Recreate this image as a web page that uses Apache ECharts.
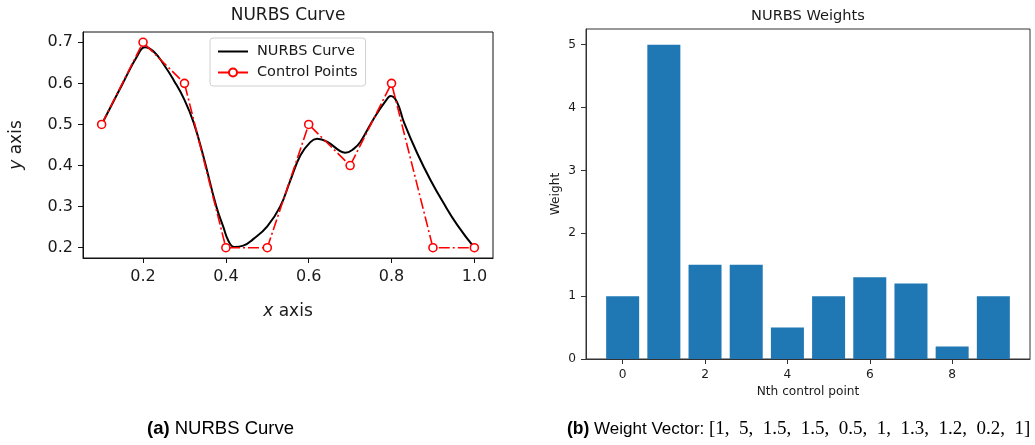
<!DOCTYPE html>
<html>
<head>
<meta charset="utf-8">
<script src="https://cdn.jsdelivr.net/npm/echarts@6/dist/echarts.min.js"></script>
<style>
html,body{margin:0;padding:0;background:#fff;}
#chart{width:1035px;height:445px;}
</style>
</head>
<body>
<div id="chart"></div>
<script>
// ---- data ----
const ctrlX = [0.1, 0.2, 0.3, 0.4, 0.5, 0.6, 0.7, 0.8, 0.9, 1.0];
const ctrlY = [0.5, 0.7, 0.6, 0.2, 0.2, 0.5, 0.4, 0.6, 0.2, 0.2];
const curveX = [0.1, 0.15, 0.185, 0.205, 0.225, 0.25, 0.275, 0.3, 0.322, 0.345, 0.377, 0.394, 0.406, 0.42, 0.442, 0.466, 0.5, 0.531, 0.555, 0.58, 0.604, 0.62, 0.644, 0.676, 0.688, 0.708, 0.725, 0.757, 0.785, 0.798, 0.813, 0.83, 0.862, 0.894, 0.926, 0.959, 1.0];
const curveY = [0.5, 0.598, 0.665, 0.688, 0.678, 0.646, 0.606, 0.56, 0.505, 0.425, 0.30, 0.25, 0.217, 0.202, 0.205, 0.221, 0.252, 0.30, 0.362, 0.425, 0.457, 0.465, 0.458, 0.435, 0.431, 0.44, 0.458, 0.514, 0.556, 0.569, 0.555, 0.505, 0.43, 0.365, 0.308, 0.255, 0.2];
const weightIdx = [0, 1, 2, 3, 4, 5, 6, 7, 8, 9];
const weights = [1, 5, 1.5, 1.5, 0.5, 1, 1.3, 1.2, 0.2, 1];
const leftXTicks = [0.2, 0.4, 0.6, 0.8, 1.0];
const leftYTicks = [0.2, 0.3, 0.4, 0.5, 0.6, 0.7];
const rightXTicks = [0, 2, 4, 6, 8];
const rightYTicks = [0, 1, 2, 3, 4, 5];

const FONT = 'DejaVu Sans';
const chart = echarts.init(document.getElementById('chart'), null, {renderer: 'canvas'});

const curveData = curveX.map((x, i) => [x, curveY[i]]);
const ctrlData = ctrlX.map((x, i) => [x, ctrlY[i]]);
const barData = weightIdx.map((x, i) => [x, weights[i]]);

// caption (b) math part
const n = weights.length;
let mathText = '{m|[}';
weights.forEach((w, i) => {
  mathText += '{m|' + String(w) + (i < n - 1 ? ',' : ']') + '}';
  if (i < n - 1) mathText += '{g| }';
});

const leftAxisColor = '#111';
const rightAxisColor = '#333';

chart.setOption({
  animation: false,
  backgroundColor: '#fff',
  grid: [
    {left: 83, top: 32, width: 410, height: 226, show: true, borderColor: leftAxisColor, borderWidth: 1, containLabel: false},
    {left: 586, top: 29, width: 444, height: 330, show: true, borderColor: rightAxisColor, borderWidth: 1, containLabel: false}
  ],
  legend: {
    data: [
      {name: 'NURBS Curve', itemStyle: {color: 'rgba(0,0,0,0)', borderColor: 'rgba(0,0,0,0)', opacity: 0}},
      {name: 'Control Points'}
    ],
    orient: 'vertical',
    left: 210, top: 38,
    padding: [6, 8, 6, 7],
    itemWidth: 30, itemHeight: 10, itemGap: 6,
    borderColor: '#d0d0d0', borderWidth: 1, borderRadius: 3,
    backgroundColor: 'rgba(255,255,255,0.8)',
    textStyle: {fontFamily: FONT, fontSize: 14.5, color: '#1a1a1a', padding: [0, 0, 0, 4]}
  },
  xAxis: [
    {
      type: 'value', gridIndex: 0, min: 0.055, max: 1.045,
      splitLine: {show: false},
      axisLine: {show: true, onZero: false, lineStyle: {color: leftAxisColor}},
      axisTick: {show: true, length: 5, customValues: leftXTicks, lineStyle: {color: leftAxisColor}},
      axisLabel: {customValues: leftXTicks, margin: 11, fontFamily: FONT, fontSize: 16, color: '#1a1a1a', formatter: v => v.toFixed(1)},
      name: '{i|x} axis', nameLocation: 'middle', nameGap: 45,
      nameTextStyle: {fontFamily: FONT, fontSize: 17, color: '#1a1a1a', rich: {i: {fontStyle: 'italic', fontFamily: FONT, fontSize: 17, color: '#1a1a1a'}}}
    },
    {
      type: 'value', gridIndex: 1, min: -0.89, max: 9.89,
      splitLine: {show: false},
      axisLine: {show: true, onZero: false, lineStyle: {color: rightAxisColor}},
      axisTick: {show: true, length: 5, customValues: rightXTicks, lineStyle: {color: rightAxisColor}},
      axisLabel: {customValues: rightXTicks, margin: 10, fontFamily: FONT, fontSize: 12.2, color: '#1a1a1a'},
      name: 'Nth control point', nameLocation: 'middle', nameGap: 27,
      nameTextStyle: {fontFamily: FONT, fontSize: 12.2, color: '#1a1a1a'}
    }
  ],
  yAxis: [
    {
      type: 'value', gridIndex: 0, min: 0.175, max: 0.725,
      splitLine: {show: false},
      axisLine: {show: true, onZero: false, lineStyle: {color: leftAxisColor}},
      axisTick: {show: true, length: 5, customValues: leftYTicks, lineStyle: {color: leftAxisColor}},
      axisLabel: {customValues: leftYTicks, margin: 10, fontFamily: FONT, fontSize: 16, color: '#1a1a1a', formatter: v => v.toFixed(1)},
      name: '{i|y} axis', nameLocation: 'middle', nameGap: 58,
      nameTextStyle: {fontFamily: FONT, fontSize: 17, color: '#1a1a1a', rich: {i: {fontStyle: 'italic', fontFamily: FONT, fontSize: 17, color: '#1a1a1a'}}}
    },
    {
      type: 'value', gridIndex: 1, min: 0, max: 5.25,
      splitLine: {show: false},
      axisLine: {show: true, onZero: false, lineStyle: {color: rightAxisColor}},
      axisTick: {show: true, length: 5, customValues: rightYTicks, lineStyle: {color: rightAxisColor}},
      axisLabel: {customValues: rightYTicks, margin: 10, fontFamily: FONT, fontSize: 12.2, color: '#1a1a1a'},
      name: 'Weight', nameLocation: 'middle', nameGap: 24,
      nameTextStyle: {fontFamily: FONT, fontSize: 12.2, color: '#1a1a1a'}
    }
  ],
  series: [
    {
      name: 'NURBS Curve', type: 'line', xAxisIndex: 0, yAxisIndex: 0,
      data: curveData, smooth: 0.45, symbol: 'none', showSymbol: false,
      lineStyle: {color: '#000', width: 2}, itemStyle: {color: '#000'}, z: 2
    },
    {
      name: 'Control Points', type: 'line', xAxisIndex: 0, yAxisIndex: 0,
      data: ctrlData, symbol: 'circle', symbolSize: 8,
      lineStyle: {color: '#ff0000', width: 1.6, type: [11, 3, 2, 3]},
      itemStyle: {color: '#fff', borderColor: '#ff0000', borderWidth: 1.6}, z: 3
    },
    {
      name: 'Weights', type: 'bar', xAxisIndex: 1, yAxisIndex: 1,
      data: barData, barWidth: 33,
      itemStyle: {color: '#1f77b4'}
    }
  ],
  graphic: [
    {type: 'text', x: 288, y: 16, style: {text: 'NURBS Curve', fontFamily: FONT, fontSize: 17, fill: '#1a1a1a', align: 'center', verticalAlign: 'middle'}},
    {type: 'text', x: 808, y: 16, style: {text: 'NURBS Weights', fontFamily: FONT, fontSize: 14.6, fill: '#1a1a1a', align: 'center', verticalAlign: 'middle'}},
    {type: 'text', x: 147, y: 429, style: {
      text: '{b|(a)} NURBS Curve', fontFamily: 'Liberation Sans', fontSize: 18.5, fill: '#000', align: 'left', verticalAlign: 'middle',
      rich: {b: {fontWeight: 'bold', fontFamily: 'Liberation Sans', fontSize: 18.5, fill: '#000'}}
    }},
    {type: 'text', x: 567, y: 429, style: {
      text: '{b|(b)} Weight Vector:', fontFamily: 'Liberation Sans', fontSize: 17, fill: '#000', align: 'left', verticalAlign: 'middle',
      rich: {b: {fontWeight: 'bold', fontFamily: 'Liberation Sans', fontSize: 17.5, fill: '#000'}}
    }},
    {type: 'text', x: 709, y: 429, style: {
      text: mathText, fontFamily: 'Liberation Serif', fontSize: 19, fill: '#000', align: 'left', verticalAlign: 'middle',
      rich: {
        m: {fontFamily: 'Liberation Serif', fontSize: 19, fill: '#000'},
        g: {width: 9.5, fontFamily: 'Liberation Serif', fontSize: 19}
      }
    }}
  ]
});
</script>
</body>
</html>
